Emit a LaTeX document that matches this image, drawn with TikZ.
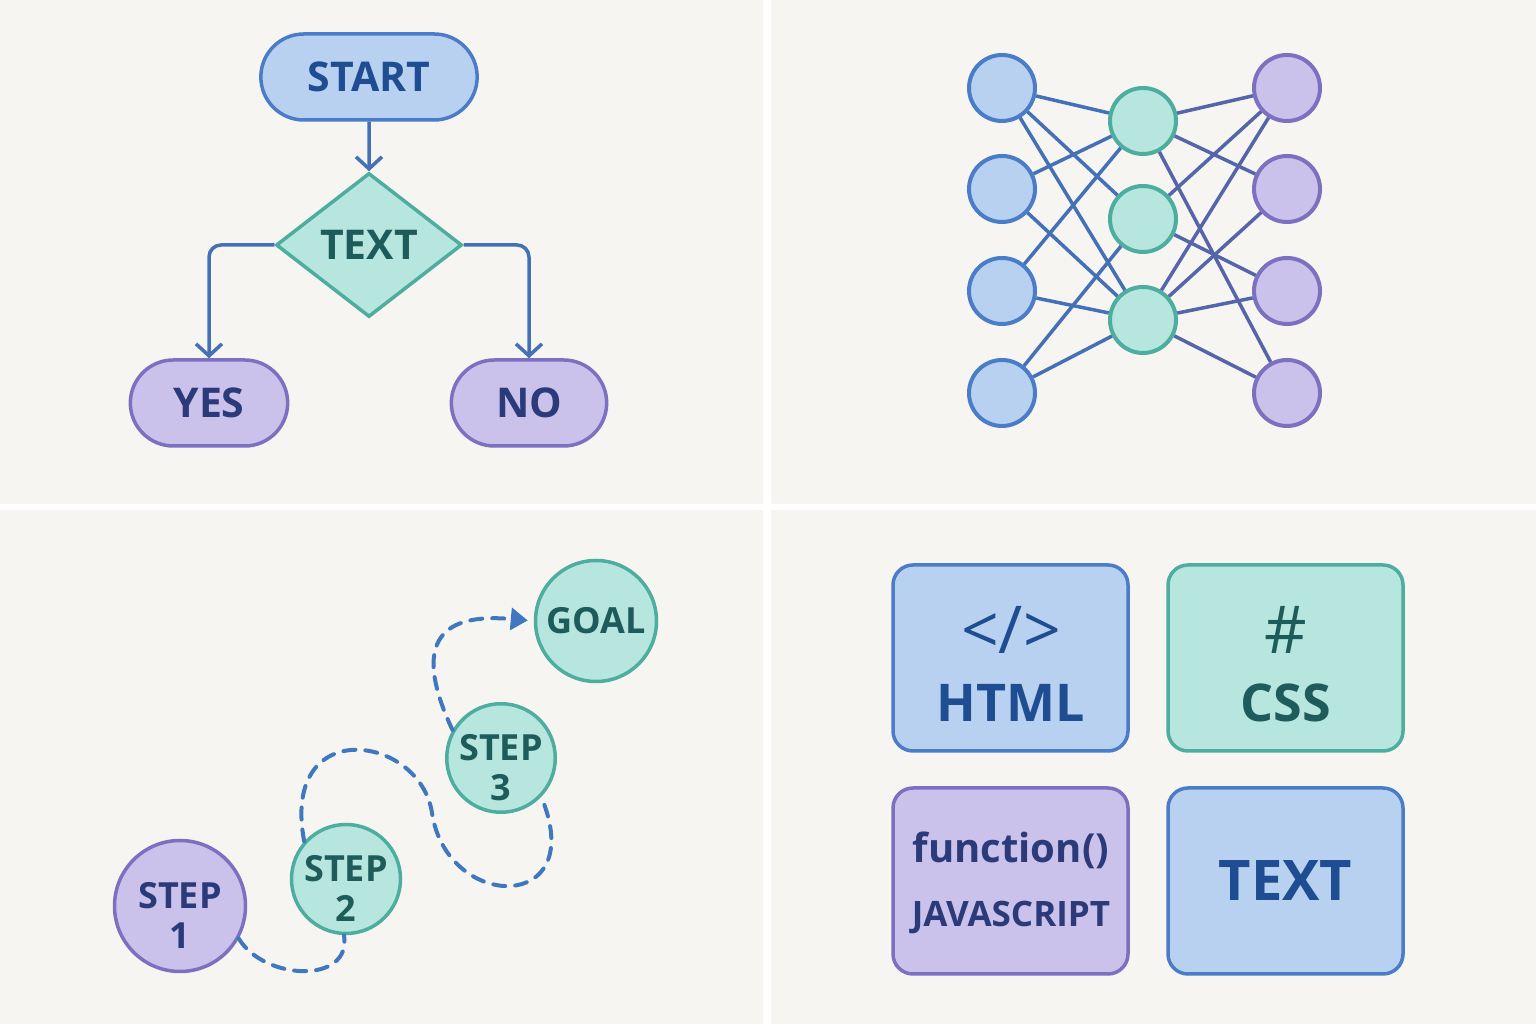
\documentclass[tikz,border=0pt]{standalone}
\usepackage{fontspec}
\setmainfont{Open Sans}
\usetikzlibrary{arrows.meta,positioning,shapes.geometric,shapes.misc}
\definecolor{paper}{HTML}{F6F5F1}
\definecolor{bluefill}{HTML}{B8D1F1}
\definecolor{blueline}{HTML}{4A7CC8}
\definecolor{bluetext}{HTML}{1F4D91}
\definecolor{mintfill}{HTML}{B7E6DF}
\definecolor{mintline}{HTML}{4DAD9E}
\definecolor{minttext}{HTML}{1E5C5C}
\definecolor{lilacfill}{HTML}{CBC2EC}
\definecolor{lilacline}{HTML}{7C70C0}
\definecolor{lilactext}{HTML}{2B3A78}
\definecolor{wire}{HTML}{4470B8}
\definecolor{wireviolet}{HTML}{5565AA}
\definecolor{dashblue}{HTML}{3F78BE}

\begin{document}
\begin{tikzpicture}[x=1pt,y=1pt,
  blueish/.style={draw=blueline,fill=bluefill,text=bluetext},
  mintish/.style={draw=mintline,fill=mintfill,text=minttext},
  lilacish/.style={draw=lilacline,fill=lilacfill,text=lilactext},
  pill/.style={rounded rectangle,line width=3.5pt,minimum height=86pt,font=\bfseries\fontsize{41}{46}\selectfont},
  choice/.style={diamond,mintish,line width=3.5pt,minimum width=186pt,minimum height=144pt,inner sep=0pt,font=\bfseries\fontsize{41}{46}\selectfont},
  flow/.style={draw=wire,line width=3.5pt,-{Straight Barb[length=12pt,width=26pt]}},
  neuron/.style={circle,line width=4pt,minimum size=66pt},
  synapse/.style={draw=wire,line width=3.5pt},
  stepnode/.style={circle,mintish,line width=3.5pt,align=center,inner sep=0pt,font=\bfseries\fontsize{36}{40}\selectfont},
  lowered/.style={text height=86pt,text depth=-20pt,inner sep=-4pt},
  trail/.style={draw=dashblue,line width=4pt,dash pattern=on 12pt off 10pt,line cap=round},
  card/.style={rounded corners=20pt,line width=3.5pt,minimum width=235pt,minimum height=186pt},
  cardtxt/.style={font=\bfseries\fontsize{52}{58}\selectfont},
  glyph/.style={font=\fontsize{66}{70}\selectfont}]
  \useasboundingbox (0,0) rectangle (1536,1024);
  \fill[white] (0,0) rectangle (1536,1024);
  \fill[paper] (0,520) rectangle (763,1024);
  \fill[paper] (771,520) rectangle (1536,1024);
  \fill[paper] (0,0) rectangle (763,514);
  \fill[paper] (771,0) rectangle (1536,514);

  \node[pill,blueish,minimum width=223pt] (start) at (369,947) {START};
  \node[choice] (test) at (369,779) {TEXT};
  \node[pill,lilacish,minimum width=164pt] (yes) at (209,621) {YES};
  \node[pill,lilacish,minimum width=162pt] (no) at (529,621) {NO};
  \draw[flow] (start) -- (test);
  \draw[flow,rounded corners=12pt] (test.west) -| (yes.north);
  \draw[flow,rounded corners=12pt] (test.east) -| (no.north);

  \foreach \y [count=\i] in {936,835,733,631}{
    \node[neuron,blueish] (l\i) at (1002,\y) {};
    \node[neuron,lilacish] (r\i) at (1287,\y) {};
  }
  \foreach \y [count=\i] in {903,805,704}
    \node[neuron,mintish] (m\i) at (1143,\y) {};
  \foreach \a/\b in {l1/m1,l1/m2,l1/m3,l2/m1,l2/m3,l3/m1,l3/m3,l4/m2,l4/m3}
    \draw[synapse] (\a) -- (\b);
  \foreach \a/\b in {m1/r1,m1/r2,m1/r4,m2/r1,m2/r3,m3/r1,m3/r2,m3/r3,m3/r4}
    \draw[synapse,draw=wireviolet] (\a) -- (\b);

  \node[stepnode,lilacish,lowered,minimum size=131pt] (s1) at (180,118) {STEP\\1};
  \node[stepnode,lowered,minimum size=109pt] (s2) at (346,145) {STEP\\2};
  \node[stepnode,lowered,minimum size=107pt] (s3) at (501,266) {STEP\\3};
  \node[stepnode,minimum size=121pt] (goal) at (596,403) {GOAL};
  \coordinate (bend) at (432,211);
  \draw[trail] (s1.-29) .. controls +(-59:49) and +(-81:50) .. (s2.-92);
  \draw[trail] (s2.138) .. controls (280,310) and (420,290) .. (bend)
    .. controls (447,112) and (590,110) .. (s3.-44);
  \draw[trail,-{Triangle[length=17pt,width=22pt]},shorten >=6pt] (s3.150) .. controls (405,395) and (455,410) .. (goal.west);

  \node[card,blueish] (html) at (1010.5,366) {};
  \node[card,mintish] (css) at (1285.5,366) {};
  \node[card,lilacish] (js) at (1010.5,143) {};
  \node[card,blueish,font=\bfseries\fontsize{56}{60}\selectfont] (txt) at (1285.5,143) {TEXT};
  \node[glyph,text=bluetext] (tag) at (1011,394) {</>};
  \node[cardtxt,text=bluetext] (htmlname) at (1011,321) {HTML};
  \node[glyph,text=minttext] (hash) at (1286,394) {\#};
  \node[cardtxt,text=minttext] (cssname) at (1286,321) {CSS};
  \node[text=lilactext,font=\bfseries\fontsize{40}{46}\selectfont] (fn) at (1011,174) {function()};
  \node[text=lilactext,font=\bfseries\fontsize{35}{40}\selectfont] (jsname) at (1011,106) {JAVASCRIPT};
\end{tikzpicture}
\end{document}
